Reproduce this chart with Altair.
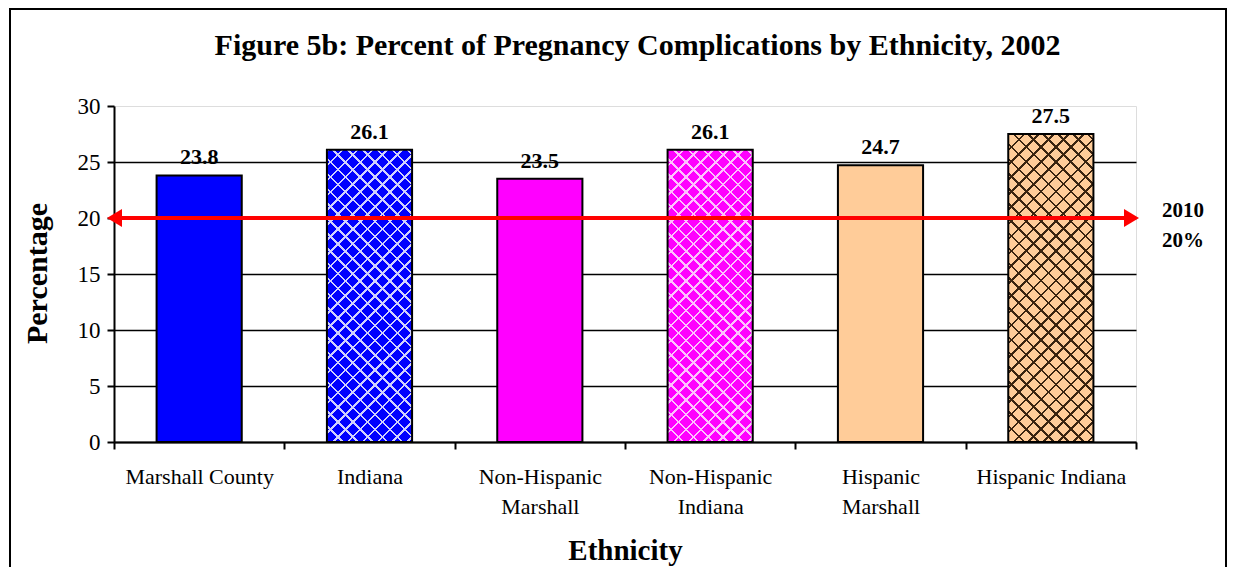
import math
import altair as alt
import pandas as pd

# ---------------- data ----------------
categories = ["Marshall County", "Indiana", "Non-Hispanic Marshall",
              "Non-Hispanic Indiana", "Hispanic Marshall", "Hispanic Indiana"]
values = [23.8, 26.1, 23.5, 26.1, 24.7, 27.5]
bar_colors = ["#0000FF", "#0000FF", "#FF00FF", "#FF00FF", "#FFCC99", "#FFCC99"]
pattern_colors = ["", "#D0D0FF", "", "#FFC0FF", "", "#3A2410"]
target_values = [20]
target_labels = ["2010\n20%"]
y_ticks = [0, 5, 10, 15, 20, 25, 30]
wrapped = ["Non-Hispanic Marshall", "Non-Hispanic Indiana", "Hispanic Marshall"]
chart_title = ["Figure 5b: Percent of Pregnancy Complications by Ethnicity, 2002"]

# ---------------- style ----------------
FONT = "Liberation Serif"
W, H = 1022, 336
Y_MAX = 30
BAR_FRAC = 0.5
PAD = {"left": 106, "top": 98, "right": 91, "bottom": 125}

df = pd.DataFrame({"cat": categories, "val": values, "color": bar_colors})
df_t = pd.DataFrame({"val": target_values, "label": target_labels})
df_title = pd.DataFrame({"title": chart_title})

x_enc = alt.X(
    "cat:N", sort=categories, title="Ethnicity",
    scale=alt.Scale(paddingInner=0, paddingOuter=0),
    axis=alt.Axis(
        labelAngle=0, labelFont=FONT, labelFontSize=22, labelColor="black",
        labelPadding=17, labelLineHeight=30, labelLimit=300,
        labelExpr="indexof(" + str(wrapped) + ", datum.label) >= 0 ? split(datum.label, ' ') : datum.label",
        tickBand="extent", tickSize=7, tickWidth=2, tickColor="black",
        domainColor="black", domainWidth=2,
        titleFont=FONT, titleFontSize=29, titleFontWeight="bold", titleColor="black",
        titleY=117, titleBaseline="alphabetic",
    ),
)
y_enc = alt.Y(
    "val:Q", title="Percentage",
    scale=alt.Scale(domain=[0, Y_MAX], nice=False),
    axis=alt.Axis(
        values=y_ticks, labelFont=FONT, labelFontSize=23, labelColor="black",
        labelPadding=7, tickSize=7, tickWidth=2, tickColor="black",
        domainColor="black", domainWidth=2,
        grid=True, gridColor="black", gridWidth=1.5,
        gridOpacity={"condition": {"test": "datum.value === 30", "value": 0}, "value": 1},
        titleFont=FONT, titleFontSize=30, titleFontWeight="bold", titleColor="black",
        titleAngle=270, titleX=-68, titleY=167, titleAlign="center", titleBaseline="alphabetic",
    ),
)


def stripe_gradient(color, val, flip, pitch=10.5, line=1.8):
    w = W / len(categories) * BAR_FRAC
    h = val / Y_MAX * H
    k = h / w
    a = (1 + k) / (1 + k * k)
    b = k * a
    total = (w + h) / math.sqrt(2)
    clear = "rgba(0,0,0,0)"
    stops = []
    n = int(total / pitch) + 2
    for i in range(n):
        t0 = i * pitch / total
        t1 = (i * pitch + line) / total
        if t0 > 1:
            break
        t1 = min(t1, 1.0)
        stops += [
            {"offset": t0, "color": clear},
            {"offset": t0, "color": color},
            {"offset": t1, "color": color},
            {"offset": t1, "color": clear},
        ]
    if flip:
        return {"gradient": "linear", "x1": 0, "y1": 1, "x2": a, "y2": 1 - b, "stops": stops}
    return {"gradient": "linear", "x1": 0, "y1": 0, "x2": a, "y2": b, "stops": stops}


base = alt.Chart(df).mark_bar(width=alt.RelativeBandSize(BAR_FRAC), strokeWidth=0).encode(
    x=x_enc, y=y_enc, color=alt.Color("color:N", scale=None)
)

layers = [base]
for cat, val, pc in zip(categories, values, pattern_colors):
    if not pc:
        continue
    for flip in (False, True):
        layers.append(
            alt.Chart(df).transform_filter(alt.datum.cat == cat).mark_bar(
                width=alt.RelativeBandSize(BAR_FRAC), strokeWidth=0,
                fill=stripe_gradient(pc, val, flip),
            ).encode(x=x_enc, y=y_enc)
        )

outline = alt.Chart(df).mark_bar(
    width=alt.RelativeBandSize(BAR_FRAC), fillOpacity=0, stroke="black", strokeWidth=2
).encode(x=x_enc, y=y_enc)

value_text = alt.Chart(df).mark_text(
    font=FONT, fontSize=22, fontWeight="bold", color="black", baseline="alphabetic", dy=-11
).encode(x=x_enc, y=y_enc, text=alt.Text("val:Q", format=".1f"))

target_rule = alt.Chart(df_t).mark_rule(color="#FF0000", strokeWidth=4).encode(
    y="val:Q", x=alt.value(4), x2=alt.value(W - 10)
)
left_arrow = alt.Chart(df_t).mark_point(
    shape="M 1,-1.2 L -1,0 L 1,1.2 Z", size=225, filled=True, color="#FF0000", opacity=1, strokeWidth=0
).encode(y="val:Q", x=alt.value(0.5))
right_arrow = alt.Chart(df_t).mark_point(
    shape="M -1,-1.2 L 1,0 L -1,1.2 Z", size=225, filled=True, color="#FF0000", opacity=1, strokeWidth=0
).encode(y="val:Q", x=alt.value(W - 4.5))
target_text = alt.Chart(df_t).mark_text(
    font=FONT, fontSize=21, fontWeight="bold", color="black", baseline="alphabetic",
    align="center", lineBreak="\n", lineHeight=30, dy=-1
).encode(y="val:Q", x=alt.value(1069), text="label:N")

title_text = alt.Chart(df_title).mark_text(
    font=FONT, fontSize=30, fontWeight="bold", color="black", baseline="alphabetic", align="center"
).encode(x=alt.value(523.5), y=alt.value(-51), text="title:N")

border = alt.Chart(df_t).mark_rect(filled=False, stroke="black", strokeWidth=2).encode(
    x=alt.value(-104), x2=alt.value(1112), y=alt.value(-97), y2=alt.value(700)
)

chart = alt.layer(
    *layers, outline, value_text, target_rule, left_arrow, right_arrow, target_text,
    title_text, border
).properties(
    width=W, height=H,
    autosize=alt.AutoSizeParams(type="none"),
    padding=PAD,
).configure_view(stroke="#808080", strokeWidth=2).configure(background="white")

chart.save("out.html", embed_options={"renderer": "svg", "actions": False})
